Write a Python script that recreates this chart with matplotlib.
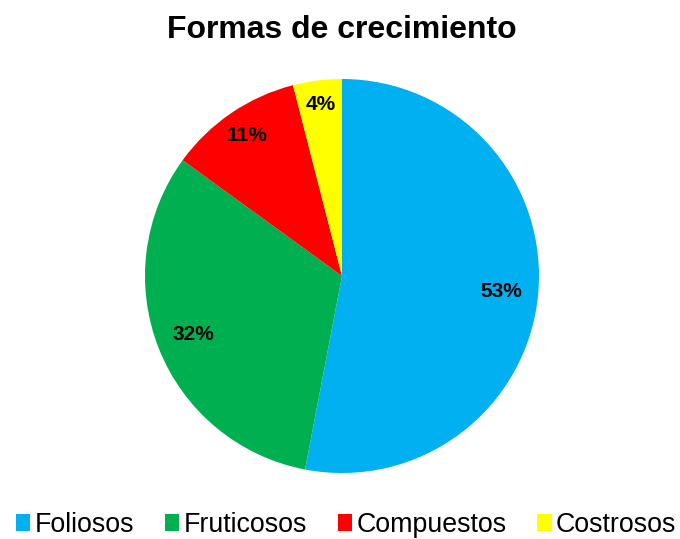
import numpy as np
import matplotlib.pyplot as plt
from matplotlib.patches import Patch

plt.rcParams['font.family'] = ['Liberation Sans', 'DejaVu Sans']

categories = ['Foliosos', 'Fruticosos', 'Compuestos', 'Costrosos']
values = [53, 32, 11, 4]
colors = ['#00B0F0', '#00B050', '#FF0000', '#FFFF00']
label_dist = [0.81, 0.81, 0.86, 0.88]

fig = plt.figure(figsize=(6.8, 5.39), dpi=100)
ax = fig.add_axes([145/680, 66/539, 394/680, 394/539])
wedges, _ = ax.pie(values, colors=colors, startangle=90, counterclock=False,
                   wedgeprops=dict(linewidth=0))
ax.set_aspect('equal')
ax.set_xlim(-1, 1)
ax.set_ylim(-1, 1)

for w, v, d in zip(wedges, values, label_dist):
    ang = np.deg2rad((w.theta1 + w.theta2) / 2)
    ax.text(d*np.cos(ang), d*np.sin(ang), f'{v}%', ha='center', va='center',
            fontsize=15, fontweight='bold')

fig.text(342/680, 1 - 30/539, 'Formas de crecimiento', ha='center', va='center',
         fontsize=23, fontweight='bold')

handles = [Patch(facecolor=c, edgecolor='none') for c in colors]
fig.legend(handles, categories, loc='center', bbox_to_anchor=(346/680, 1 - 525/539),
           ncol=4, frameon=False, fontsize=19.3, handlelength=0.55, handleheight=0.55,
           handletextpad=0.15, columnspacing=1.15)

fig.savefig('out.png', dpi=100)
